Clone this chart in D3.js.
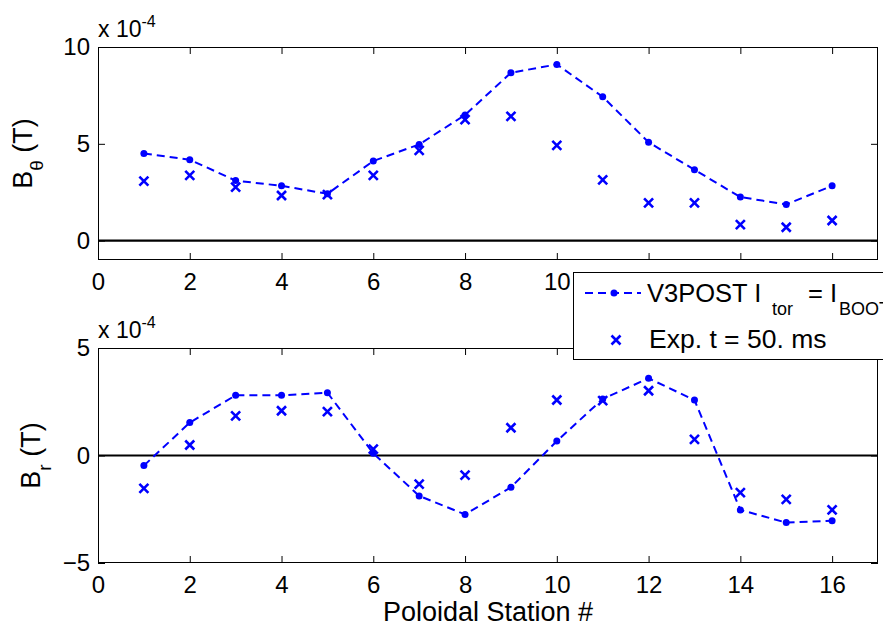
<!doctype html>
<html>
<head>
<meta charset="utf-8">
<script src="https://cdn.jsdelivr.net/npm/d3@7"></script>
<style>
  body { margin: 0; background: #fff; }
  svg { display: block; font-family: Arial, "Liberation Sans", Helvetica, sans-serif; }
</style>
</head>
<body>
<svg width="883" height="627"></svg>
<script>
// poloidal station numbers
var stations = [1, 2, 3, 4, 5, 6, 7, 8, 9, 10, 11, 12, 13, 14, 15, 16];
// values in units of 1e-4 T
var bthetaModel = [4.5, 4.18, 3.1, 2.83, 2.42, 4.11, 4.97, 6.49, 8.67, 9.1, 7.43, 5.08, 3.66, 2.25, 1.87, 2.83];
var bthetaExp   = [3.07, 3.37, 2.76, 2.33, 2.38, 3.37, 4.66, 6.25, 6.42, 4.92, 3.14, 1.95, 1.95, 0.83, 0.69, 1.04];
var brModel = [-0.47, 1.53, 2.8, 2.8, 2.92, 0.1, -1.88, -2.74, -1.48, 0.67, 2.63, 3.59, 2.58, -2.53, -3.12, -3.03];
var brExp   = [-1.53, 0.49, 1.84, 2.08, 2.04, 0.3, -1.33, -0.91, 1.29, 2.58, 2.55, 3.01, 0.75, -1.73, -2.04, -2.53];
var xTicks = [0, 2, 4, 6, 8, 10, 12, 14, 16];
var topYTicks = [0, 5, 10];
var botYTicks = [-5, 0, 5];

var blue = "#0000ff";
var svg = d3.select("svg");

var x = d3.scaleLinear().domain([0, 17]).range([98, 878]);

function panel(yDomain, yRange, yTicks, model, exp, label, sub, labelX) {
  var y = d3.scaleLinear().domain(yDomain).range(yRange);
  var g = svg.append("g");
  var x0 = x.range()[0], x1 = x.range()[1];
  var yb = yRange[0], yt = yRange[1];

  // ticks, pointing inward on all four sides
  g.append("g").attr("transform", "translate(0," + yb + ")")
    .call(d3.axisBottom(x).tickValues(xTicks).tickSize(-7).tickSizeOuter(0).tickPadding(13));
  g.append("g").attr("transform", "translate(0," + yt + ")")
    .call(d3.axisTop(x).tickValues(xTicks).tickSize(-7).tickSizeOuter(0).tickFormat(""));
  g.append("g").attr("transform", "translate(" + x0 + ",0)")
    .call(d3.axisLeft(y).tickValues(yTicks).tickSize(-7).tickSizeOuter(0).tickPadding(8));
  g.append("g").attr("transform", "translate(" + x1 + ",0)")
    .call(d3.axisRight(y).tickValues(yTicks).tickSize(-7).tickSizeOuter(0).tickFormat(""));
  g.selectAll(".domain").remove();
  g.selectAll(".tick line").attr("stroke", "#000");
  g.selectAll(".tick text").attr("font-size", 24).attr("fill", "#000")
    .attr("font-family", "Arial, 'Liberation Sans', sans-serif");

  g.append("rect").attr("x", x0 + 0.5).attr("y", yt + 0.5)
    .attr("width", x1 - x0 - 1).attr("height", yb - yt - 1)
    .attr("fill", "none").attr("stroke", "#000");

  // zero line
  g.append("line").attr("x1", x(0)).attr("x2", x(17))
    .attr("y1", y(0)).attr("y2", y(0))
    .attr("stroke", "#000").attr("stroke-width", 2.2);

  // model curve
  var line = d3.line().x(function(d, i) { return x(stations[i]); }).y(function(d) { return y(d); });
  g.append("path").datum(model).attr("d", line)
    .attr("fill", "none").attr("stroke", blue).attr("stroke-width", 2)
    .attr("stroke-dasharray", "8,5");
  g.selectAll("circle.m").data(model).enter().append("circle")
    .attr("cx", function(d, i) { return x(stations[i]); })
    .attr("cy", function(d) { return y(d); })
    .attr("r", 3.5).attr("fill", blue);

  // measured points
  g.selectAll("path.x").data(exp).enter().append("path")
    .attr("transform", function(d, i) { return "translate(" + x(stations[i]) + "," + y(d) + ")"; })
    .attr("d", "M-4.5,-4.5L4.5,4.5M-4.5,4.5L4.5,-4.5")
    .attr("stroke", blue).attr("stroke-width", 2.6).attr("fill", "none");

  // exponent label
  var ex = g.append("text").attr("x", x0).attr("y", yt - 10)
    .attr("font-size", 23).attr("fill", "#000");
  ex.append("tspan").text("x 10");
  ex.append("tspan").attr("dy", -10).attr("font-size", 16).text("-4");

  // y label
  var yl = g.append("text")
    .attr("transform", "translate(" + labelX + "," + ((yt + yb) / 2) + ") rotate(-90)")
    .attr("text-anchor", "middle").attr("font-size", 27).attr("fill", "#000");
  yl.append("tspan").text(label);
  yl.append("tspan").attr("dy", 11).attr("font-size", 19).text(sub);
  yl.append("tspan").attr("dy", -11).text(" (T)");
}

panel([-1, 10], [260, 47], topYTicks, bthetaModel, bthetaExp, "B", "\u03b8", 32);
panel([-5, 5], [563, 348], botYTicks, brModel, brExp, "B", "r", 40);

// x label
svg.append("text").attr("x", (x(0) + x(17)) / 2).attr("y", 621)
  .attr("text-anchor", "middle").attr("font-size", 27).attr("fill", "#000")
  .text("Poloidal Station #");

// legend (runs past the right edge of the figure, as in the original)
var lg = svg.append("g");
lg.append("rect").attr("x", 573.5).attr("y", 272.5).attr("width", 400).attr("height", 87)
  .attr("fill", "#fff").attr("stroke", "#000");
lg.append("line").attr("x1", 585).attr("x2", 641).attr("y1", 293).attr("y2", 293)
  .attr("stroke", blue).attr("stroke-width", 2).attr("stroke-dasharray", "8,5");
lg.append("circle").attr("cx", 614).attr("cy", 293).attr("r", 3.5).attr("fill", blue);
var t1 = lg.append("text").attr("x", 647).attr("y", 302).attr("font-size", 25.5).attr("fill", "#000");
t1.append("tspan").text("V3POST I");
t1.append("tspan").attr("x", 772).attr("dy", 13).attr("font-size", 18).text("tor");
t1.append("tspan").attr("x", 808).attr("dy", -13).text("= I");
t1.append("tspan").attr("x", 839).attr("dy", 13).attr("font-size", 18).text("BOOT");
lg.append("path").attr("transform", "translate(616,340)")
  .attr("d", "M-4.5,-4.5L4.5,4.5M-4.5,4.5L4.5,-4.5")
  .attr("stroke", blue).attr("stroke-width", 2.6);
lg.append("text").attr("x", 649).attr("y", 348).attr("font-size", 26.5).attr("fill", "#000")
  .text("Exp. t = 50. ms");
</script>
</body>
</html>
